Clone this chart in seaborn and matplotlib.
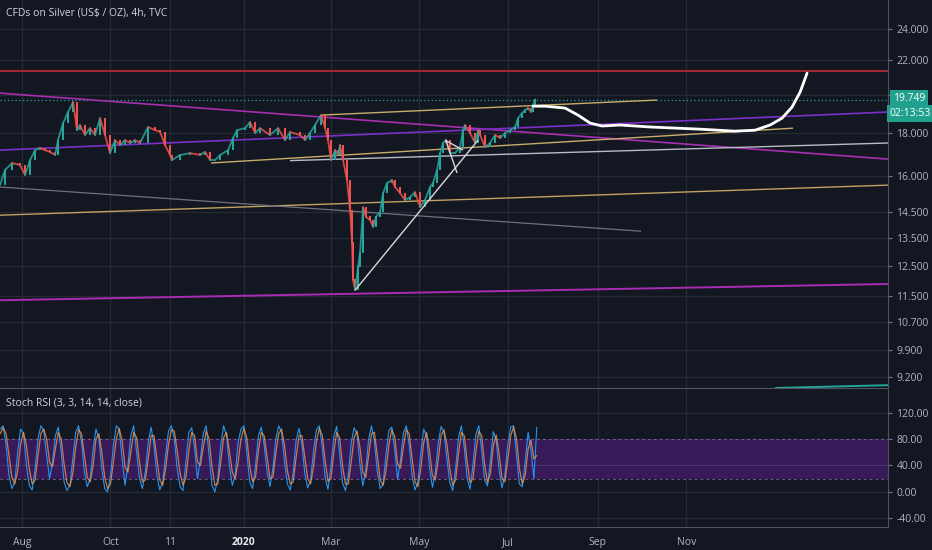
import numpy as np
import pandas as pd
import matplotlib
matplotlib.use("Agg")
import matplotlib.pyplot as plt
from matplotlib.ticker import NullLocator, FixedLocator
import seaborn as sns

# dark TradingView look
sns.set_style("dark", {"axes.facecolor": "#131722", "figure.facecolor": "#131722",
                       "axes.edgecolor": "#434651", "grid.color": "#262a35"})
plt.rcParams['font.family'] = ['Open Sans', 'DejaVu Sans']

# x is days since 2019-08-01
tick_days = [0, 61, 102, 153, 213, 274, 335, 397, 458]
tick_labels = ["Aug", "Oct", "11", "2020", "Mar", "May", "Jul", "Sep", "Nov"]

price_ticks = [9.2, 9.9, 10.7, 11.5, 12.5, 13.5, 14.5, 16, 18, 20, 22, 24]

# 4h closes
price_days = [-15.2, -11.7, -6.9, -1.4, 2.1, 5.5, 9.0, 12.4, 15.9, 19.3,
              22.8, 24.8, 28.3, 31.7, 35.2, 37.9, 40.0, 43.4, 46.9, 50.3,
              53.8, 57.2, 60.7, 64.1, 67.6, 71.0, 74.5, 77.9, 81.4, 86.9,
              91.7, 95.2, 98.6, 102.1, 103.4, 109.0, 115.9, 122.8, 126.2, 129.7,
              133.1, 136.6, 142.1, 145.5, 148.3, 153.8, 157.2, 160.7, 164.1, 171.0,
              176.6, 181.4, 184.8, 191.7, 195.2, 198.6, 202.1, 206.2, 209.0, 211.0,
              213.1, 215.9, 217.9, 219.3, 221.4, 224.1, 226.2, 227.6, 228.3, 229.7,
              231.7, 233.1, 235.2, 237.2, 240.0, 242.1, 244.1, 246.9, 249.0, 251.7,
              255.2, 257.2, 260.7, 264.1, 267.6, 271.0, 274.5, 277.9, 281.4, 283.4,
              286.2, 288.3, 290.3, 292.4, 295.2, 298.6, 302.1, 304.1, 305.5, 309.0,
              312.4, 314.5, 315.9, 319.3, 322.8, 326.2, 329.7, 333.1, 336.6, 340.0,
              342.1, 344.8, 346.9, 349.0, 351.0, 352.4, 353.8]
price_close = [15.60, 16.26, 16.58, 16.49, 16.04, 16.71, 17.18, 17.28, 17.18, 17.09,
               16.95, 17.66, 18.51, 19.08, 19.61, 18.15, 18.41, 17.91, 18.25, 17.91,
               18.76, 17.91, 17.04, 17.66, 17.42, 17.66, 17.52, 17.66, 17.52, 18.31,
               18.15, 18.06, 17.42, 16.95, 16.71, 16.95, 17.04, 16.95, 17.09, 16.71,
               16.71, 16.95, 17.18, 17.76, 18.15, 18.25, 18.56, 18.01, 18.25, 17.91,
               18.25, 17.66, 18.06, 17.91, 17.66, 18.01, 18.41, 18.92, 18.25, 17.66,
               16.71, 17.18, 16.95, 17.42, 16.71, 15.82, 14.56, 13.30, 12.01, 11.68,
               12.45, 12.94, 14.68, 14.29, 14.17, 13.90, 14.29, 14.48, 15.26, 15.69,
               15.82, 15.52, 15.26, 14.97, 15.09, 15.30, 14.68, 14.97, 15.52, 15.69,
               16.26, 17.04, 17.52, 17.66, 17.04, 17.04, 17.32, 18.15, 18.41, 18.01,
               17.52, 18.15, 17.91, 17.32, 17.52, 17.91, 17.76, 18.01, 18.15, 18.31,
               18.76, 19.02, 19.18, 19.29, 19.08, 19.45, 19.75]

last_price = 19.749
resistance = 21.36

# drawn lines, endpoints (day, price)
magenta_down = [(-15.2, 20.10), (597.2, 16.76)]
purple_up = [(-15.2, 17.18), (597.2, 19.08)]
magenta_low = [(-15.2, 11.36), (597.2, 11.88)]
gold_top = [(206.2, 18.92), (437.9, 19.72)]
gold_mid = [(130.3, 16.58), (531.7, 18.25)]
gold_long = [(-15.2, 14.36), (597.2, 15.60)]
grey_long = [(184.8, 16.69), (597.2, 17.52)]
grey_down = [(-15.2, 15.52), (426.9, 13.74)]
white_trend = [(229.7, 11.68), (314.5, 17.66)]
white_tick1 = [(291.7, 17.66), (304.1, 17.18)]
white_tick2 = [(292.4, 17.62), (300.0, 16.13)]
teal_low = [(519.3, 8.92), (597.2, 8.99)]

proj_days = [352.4, 360.7, 374.5, 383.4, 391.7, 400.0, 412.4, 433.1, 467.6, 491.7,
             505.5, 515.9, 524.1, 531.0, 536.6, 541.4]
proj_price = [19.39, 19.39, 19.29, 18.92, 18.51, 18.36, 18.41, 18.31, 18.20, 18.10,
              18.15, 18.41, 18.76, 19.34, 20.16, 21.24]

# Stoch RSI, one value every 2 days from day -15
stoch_k = [95, 100, 70, 25, 5, 15, 60, 95, 88, 40, 10, 3, 35, 80, 100, 92, 55, 20, 45, 85,
           98, 60, 15, 2, 10, 50, 90, 100, 75, 30, 8, 20, 65, 95, 80, 35, 5, 0, 25, 70,
           100, 95, 50, 10, 40, 85, 100, 60, 20, 5, 30, 75, 98, 70, 25, 3, 15, 55, 92, 100,
           80, 35, 8, 2, 45, 90, 97, 65, 20, 50, 88, 100, 55, 10, 0, 20, 70, 100, 85, 40,
           10, 25, 75, 95, 100, 60, 15, 5, 40, 85, 98, 70, 30, 8, 35, 80, 100, 90, 45, 12,
           3, 30, 78, 96, 72, 28, 6, 18, 62, 94, 100, 68, 22, 4, 38, 84, 99, 58, 14, 2,
           26, 74, 97, 88, 42, 9, 33, 79, 100, 76, 31, 5, 12, 57, 93, 98, 64, 19, 48, 89,
           100, 71, 24, 3, 15, 60, 95, 83, 37, 7, 28, 73, 99, 90, 50, 14, 2, 35, 82, 100,
           66, 20, 4, 42, 87, 100, 62, 18, 9, 47, 91, 78, 33, 6, 26, 72, 98, 100, 55, 12,
           8, 45, 90, 62, 20, 98]
stoch_d = [88, 97, 88, 55, 22, 12, 32, 72, 90, 70, 35, 12, 18, 55, 88, 95, 80, 45, 38, 65,
           90, 80, 42, 14, 8, 28, 68, 94, 88, 55, 22, 15, 40, 80, 88, 60, 22, 5, 12, 45,
           80, 96, 78, 38, 30, 60, 90, 82, 45, 15, 18, 50, 85, 85, 50, 18, 10, 35, 72, 94,
           92, 62, 28, 10, 22, 62, 90, 85, 45, 40, 68, 92, 80, 38, 10, 12, 45, 82, 90, 62,
           30, 20, 45, 80, 96, 82, 40, 15, 22, 62, 90, 85, 52, 20, 22, 58, 88, 95, 70, 32,
           12, 15, 52, 85, 85, 52, 20, 12, 38, 76, 96, 86, 48, 16, 20, 60, 90, 82, 40, 12,
           12, 45, 82, 92, 68, 30, 22, 55, 88, 90, 55, 18, 10, 32, 72, 94, 84, 42, 36, 68,
           94, 88, 50, 15, 8, 35, 75, 90, 62, 25, 18, 48, 85, 94, 72, 35, 10, 18, 58, 90,
           85, 45, 14, 20, 62, 92, 85, 42, 14, 28, 70, 86, 58, 20, 15, 48, 85, 98, 80, 35,
           12, 25, 65, 78, 50, 55]
stoch_days = np.arange(len(stoch_k)) * 2 - 15
stoch_ticks = [-40, 0, 40, 80, 120]

W, H = 932, 550
fig = plt.figure(figsize=(W / 100, H / 100), dpi=100)
ax = fig.add_axes([0, 1 - 388 / H, 888 / W, 388 / H])
ax2 = fig.add_axes([0, 1 - 527 / H, 888 / W, 137 / H])

xmin, xmax = -15.2, 597.2
label_col = "#b2b5be"

# ---- price pane
ax.set_yscale("log")
ax.set_xlim(xmin, xmax)
ax.set_ylim(8.92, 25.98)

ax.axhline(resistance, color="#b22a35", lw=1.3, zorder=2)
ax.axhline(last_price, color="#26a69a", lw=0.9, ls=(0, (1, 2)), zorder=2)

def seg(pts, color, lw=1.1, z=2):
    ax.plot([p[0] for p in pts], [p[1] for p in pts], color=color, lw=lw, zorder=z,
            solid_capstyle="butt")

seg(magenta_down, "#a62fb0", 1.2)
seg(purple_up, "#7a2fc9", 1.2)
seg(magenta_low, "#a82cb4", 1.4)
seg(gold_top, "#c9ab6c", 1.0)
seg(gold_mid, "#c9ab6c", 1.0)
seg(gold_long, "#c2a264", 1.0)
seg(grey_long, "#b9bcc4", 1.0)
seg(grey_down, "#6f727c", 0.9)
seg(white_trend, "#d8d8dc", 1.0, 4)
seg(white_tick1, "#d8d8dc", 1.0, 4)
seg(white_tick2, "#d8d8dc", 1.0, 4)
seg(teal_low, "#26a69a", 1.4)

# candles: open is the previous close
opens = [price_close[0]] + price_close[:-1]
cols = ["#26a69a" if c >= o else "#ef5350" for o, c in zip(opens, price_close)]
bottoms = [min(o, c) for o, c in zip(opens, price_close)]
heights = [abs(c - o) + 0.02 for o, c in zip(opens, price_close)]
ax.bar(price_days, heights, bottom=bottoms, width=1.6, color=cols, zorder=3, linewidth=0)
for i in range(1, len(price_days)):
    ax.plot(price_days[i - 1:i + 1], price_close[i - 1:i + 1], color=cols[i], lw=1.3,
            alpha=0.85, zorder=3)

sns.lineplot(x=proj_days, y=proj_price, ax=ax, color="white", lw=2.0, zorder=5)

ax.yaxis.tick_right()
ax.yaxis.set_major_locator(FixedLocator(price_ticks))
ax.yaxis.set_minor_locator(NullLocator())
# 20.000 sits behind the last-price tag
ax.set_yticklabels(["" if t == 20 else f"{t:.3f}" for t in price_ticks])
ax.set_xticks(tick_days)
ax.set_xticklabels([])
ax.tick_params(axis="x", length=0)
ax.tick_params(axis="y", length=3, color="#787b86", labelcolor=label_col,
               labelsize=7.5, pad=3)
ax.grid(True, color="#262a35", lw=0.9)
for s in ["left", "top"]:
    ax.spines[s].set_visible(False)
ax.spines["right"].set_color("#505460")
ax.spines["bottom"].set_color("#505460")
ax.set_xlabel("")
ax.set_ylabel("")

# ---- stoch rsi pane
ax2.set_xlim(xmin, xmax)
ax2.set_ylim(-53, 154)
ax2.axhspan(20, 80, color="#371a57", lw=0, zorder=1)
ax2.axhline(40, color="#4a3470", lw=0.8, zorder=1.5)
ax2.axhline(80, color="#8a7fa0", lw=0.7, ls=(0, (3, 3)), alpha=0.7, zorder=2)
ax2.axhline(20, color="#8a7fa0", lw=0.7, ls=(0, (3, 3)), alpha=0.7, zorder=2)
sns.lineplot(x=stoch_days, y=stoch_k, ax=ax2, color="#2196f3", lw=0.8, zorder=3)
sns.lineplot(x=stoch_days, y=stoch_d, ax=ax2, color="#ff9a4a", lw=0.9, alpha=0.75, zorder=4)

ax2.yaxis.tick_right()
ax2.set_yticks(stoch_ticks)
ax2.set_yticklabels([f"{t:.2f}" for t in stoch_ticks])
ax2.set_xticks(tick_days)
ax2.set_xticklabels(tick_labels)
ax2.tick_params(axis="x", length=3, color="#787b86", labelcolor=label_col,
                labelsize=7.5, pad=4)
ax2.tick_params(axis="y", length=3, color="#787b86", labelcolor=label_col,
                labelsize=7.5, pad=3)
for lab in ax2.get_xticklabels():
    if lab.get_text() == "2020":
        lab.set_color("#e6e8ee")
        lab.set_fontweight("bold")
ax2.grid(True, color="#262a35", lw=0.9)
for s in ["left", "top"]:
    ax2.spines[s].set_visible(False)
ax2.spines["right"].set_color("#505460")
ax2.spines["bottom"].set_color("#505460")
ax2.set_xlabel("")
ax2.set_ylabel("")

# ---- texts
fig.text(6 / W, 1 - 13 / H, "CFDs on Silver (US$ / OZ), 4h, TVC", color="#d1d4dc",
         fontsize=7.5, va="center", ha="left")
fig.text(6 / W, 1 - 403 / H, "Stoch RSI (3, 3, 14, 14, close)", color="#d1d4dc",
         fontsize=7.5, va="center", ha="left")
fig.text(893 / W, 1 - 99 / H, "19.749", color="white", fontsize=7.5, va="center",
         ha="left", bbox=dict(boxstyle="square,pad=0.3", fc="#22a08e", ec="none"))
fig.text(890 / W, 1 - 113.5 / H, "02:13:53", color="white", fontsize=7.5, va="center",
         ha="left", bbox=dict(boxstyle="square,pad=0.3", fc="#22a08e", ec="none"))

fig.savefig("out.png", dpi=100, facecolor=fig.get_facecolor())
